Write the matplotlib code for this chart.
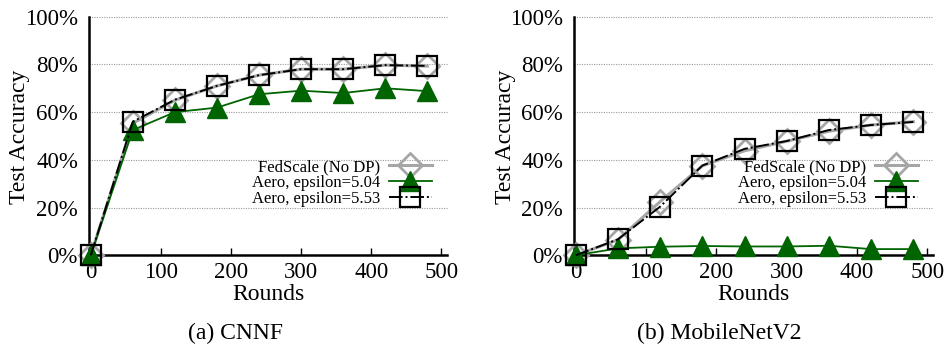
import matplotlib
matplotlib.use("Agg")
import matplotlib.pyplot as plt
from matplotlib.ticker import FuncFormatter

rounds = [0, 60, 120, 180, 240, 300, 360, 420, 480]

cnnf_fedscale = [0, 55.3, 65.0, 71.0, 75.5, 78.0, 78.0, 79.7, 79.3]
cnnf_aero_504 = [0, 52.5, 60.0, 61.9, 67.5, 69.0, 68.0, 70.0, 68.8]
cnnf_aero_553 = [0, 56.0, 65.2, 71.0, 75.5, 78.0, 78.0, 79.7, 79.4]

mobile_fedscale = [0, 6.5, 22.5, 37.5, 43.8, 47.8, 52.0, 54.6, 56.0]
mobile_aero_504 = [0, 2.9, 3.6, 3.9, 3.7, 3.7, 4.0, 2.6, 2.6]
mobile_aero_553 = [0, 6.7, 20.4, 37.6, 44.6, 47.9, 52.5, 54.6, 55.9]

labels = ["FedScale (No DP)", "Aero, epsilon=5.04", "Aero, epsilon=5.53"]
captions = ["(a) CNNF", "(b) MobileNetV2"]
yticks = [0, 20, 40, 60, 80, 100]
xticks = [0, 100, 200, 300, 400, 500]

plt.rcParams['font.family'] = ['Liberation Serif', 'DejaVu Serif']

fig = plt.figure(figsize=(9.47, 3.49), dpi=100)
W, H = 947, 349
boxes = [(89, 447), (574, 933)]
top_px, bot_px = 16.7, 255.3
ah = bot_px - top_px

gray = '#a6a6a6'
green = '#006400'

datasets = [
    (cnnf_fedscale, cnnf_aero_504, cnnf_aero_553),
    (mobile_fedscale, mobile_aero_504, mobile_aero_553),
]
cap_x = [235, 719]
ylab_x = [20, 505]

for i, ((l, r), (fs, a1, a2)) in enumerate(zip(boxes, datasets)):
    aw = r - l
    ax = fig.add_axes([l / W, 1 - bot_px / H, aw / W, ah / H])
    ax.plot(rounds, fs, color=gray, lw=2.2, marker='D', markersize=12,
            markerfacecolor='none', markeredgecolor=gray, markeredgewidth=2.0,
            label=labels[0], zorder=3)
    ax.plot(rounds, a1, color=green, lw=1.3, marker='^', markersize=14,
            markerfacecolor=green, markeredgecolor=green,
            label=labels[1], zorder=4)
    ax.plot(rounds, a2, color='black', lw=1.4, linestyle=(0, (7, 1.5, 1, 1.5)),
            marker='s', markersize=14, markerfacecolor='none',
            markeredgecolor='black', markeredgewidth=1.6,
            label=labels[2], zorder=5)
    ax.set_xlim(-2.5, 508)
    ax.set_ylim(0, 100)
    ax.set_xticks(xticks)
    ax.set_yticks(yticks)
    ax.yaxis.set_major_formatter(FuncFormatter(lambda v, p: f"{int(v)}%"))
    for y in yticks[1:]:
        ax.axhline(y, color='#999999', lw=0.8, linestyle=(0, (1, 1.2)), zorder=1)
    for s in ['top', 'right']:
        ax.spines[s].set_visible(False)
    for s in ['left', 'bottom']:
        ax.spines[s].set_linewidth(1.8)
        ax.spines[s].set_zorder(2)
    ax.tick_params(axis='both', direction='in', length=5, width=1.0,
                   labelsize=16.5, pad=5)
    ax.tick_params(axis='y', length=0, pad=8)
    ax.set_xlabel("Rounds", fontsize=17)
    ax.xaxis.set_label_coords(0.5, (bot_px - 295) / ah)
    ax.xaxis.label.set_va('center')
    ax.set_ylabel("Test Accuracy", fontsize=17)
    ax.yaxis.set_label_coords((ylab_x[i] - l) / aw, (bot_px - 137) / ah)
    ax.yaxis.label.set_va('center')
    for ln in ax.lines:
        ln.set_clip_on(False)
    leg = ax.legend(loc='upper right', bbox_to_anchor=((432 - 89) / 358, (bot_px - 159) / ah),
                    markerfirst=False, frameon=False, fontsize=12,
                    handlelength=2.6, handletextpad=0.5, labelspacing=0.0,
                    borderpad=0.0, borderaxespad=0.0)
    leg.set_zorder(10)
    for t in leg.get_texts():
        t.set_ha('right')
    fig.text(cap_x[i] / W, 1 - 333 / H, captions[i], ha='center', va='center',
             fontsize=17)

fig.savefig("out.png", dpi=100)
